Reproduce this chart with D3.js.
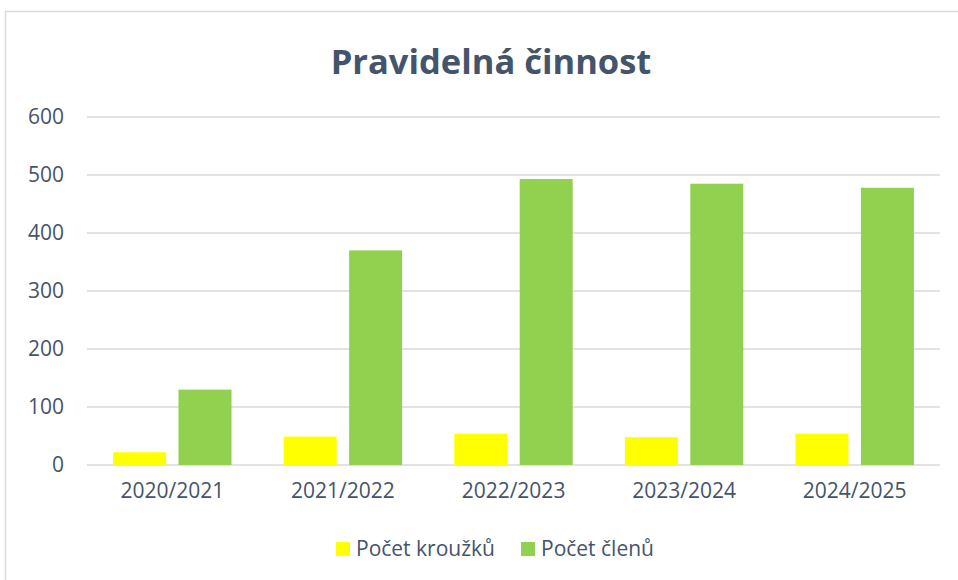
<!DOCTYPE html>
<html>
<head>
<meta charset="utf-8">
<script src="https://cdn.jsdelivr.net/npm/d3@7"></script>
<style>
  body { margin: 0; background: white; }
</style>
</head>
<body>
<div id="container"></div>
<script>
let w = 958;
let h = 580;

// school years on the x axis
let years = ["2020/2021", "2021/2022", "2022/2023", "2023/2024", "2024/2025"];
// the two series
let seriesNames = ["Počet kroužků", "Počet členů"];
let krouzky = [22, 49, 54, 48, 54];
let clenove = [130, 370, 493, 485, 478];
let yTicks = [0, 100, 200, 300, 400, 500, 600];

let colors = ["#FFFF00", "#92D050"];
let textColor = "#44546A";

let rows = years.map(function(y, i){
  return { year: y, values: [krouzky[i], clenove[i]] };
});

let margin = { left: 87, right: 18, top: 117, bottom: 115 };

let viz = d3.select("#container")
  .append("svg")
    .attr("width", w)
    .attr("height", h)
    .style("background-color", "white")
;

// chart area border (runs off the right and bottom edge)
viz.append("rect")
  .attr("x", 5.5)
  .attr("y", 11.5)
  .attr("width", 1000)
  .attr("height", 700)
  .attr("fill", "none")
  .attr("stroke", "#D9D9D9")
  .attr("stroke-width", 1.5)
;

viz.append("text")
  .attr("x", 491)
  .attr("y", 74)
  .attr("text-anchor", "middle")
  .attr("font-family", "Open Sans")
  .attr("font-weight", "bold")
  .attr("font-size", 34.5)
  .attr("fill", textColor)
  .text("Pravidelná činnost")
;

let xScale = d3.scaleBand()
  .domain(years)
  .range([margin.left, w - margin.right]);

let bw = xScale.bandwidth();
let xInner = d3.scaleBand()
  .domain([0, 1])
  .range([bw * 0.153, bw * 0.847])
  .paddingInner(0.19);

let yScale = d3.scaleLinear()
  .domain([0, 600])
  .range([h - margin.bottom, margin.top]);

// gridlines
viz.append("g")
  .selectAll("line")
  .data(yTicks)
  .enter()
  .append("line")
    .attr("x1", margin.left)
    .attr("x2", w - margin.right)
    .attr("y1", function(d){ return yScale(d); })
    .attr("y2", function(d){ return yScale(d); })
    .attr("stroke", "#D9D9D9")
    .attr("stroke-width", 1.5)
;

// y labels
let yAxis = viz.append("g")
  .attr("transform", "translate(" + (margin.left - 23) + ",0)")
  .call(d3.axisLeft(yScale).tickValues(yTicks).tickSize(0).tickPadding(0));
yAxis.select(".domain").remove();
yAxis.selectAll("text")
  .attr("font-family", "Open Sans")
  .attr("font-size", 21)
  .attr("fill", textColor);

// x labels
let xAxis = viz.append("g")
  .attr("transform", "translate(0," + (h - margin.bottom) + ")")
  .call(d3.axisBottom(xScale).tickSize(0).tickPadding(18));
xAxis.select(".domain").remove();
xAxis.selectAll("text")
  .attr("font-family", "Open Sans")
  .attr("font-size", 21)
  .attr("fill", textColor);

// bars
let groups = viz.selectAll(".datagroup").data(rows).enter()
  .append("g")
  .classed("datagroup", true)
  .attr("transform", function(d){ return "translate(" + xScale(d.year) + ",0)"; })
;

groups.selectAll("rect")
  .data(function(d){ return d.values; })
  .enter()
  .append("rect")
    .attr("x", function(d, i){ return xInner(i); })
    .attr("width", xInner.bandwidth())
    .attr("y", function(d){ return yScale(d); })
    .attr("height", function(d){ return yScale(0) - yScale(d); })
    .attr("fill", function(d, i){ return colors[i]; })
;

// legend
let legendX = [336, 521];
let legend = viz.selectAll(".legend").data(seriesNames).enter()
  .append("g")
  .classed("legend", true)
  .attr("transform", function(d, i){ return "translate(" + legendX[i] + ",542)"; })
;
legend.append("rect")
  .attr("width", 14)
  .attr("height", 14)
  .attr("fill", function(d, i){ return colors[i]; });
legend.append("text")
  .attr("x", 20)
  .attr("y", 14)
  .attr("font-family", "Open Sans")
  .attr("font-size", 21)
  .attr("fill", textColor)
  .text(function(d){ return d; });
</script>
</body>
</html>
